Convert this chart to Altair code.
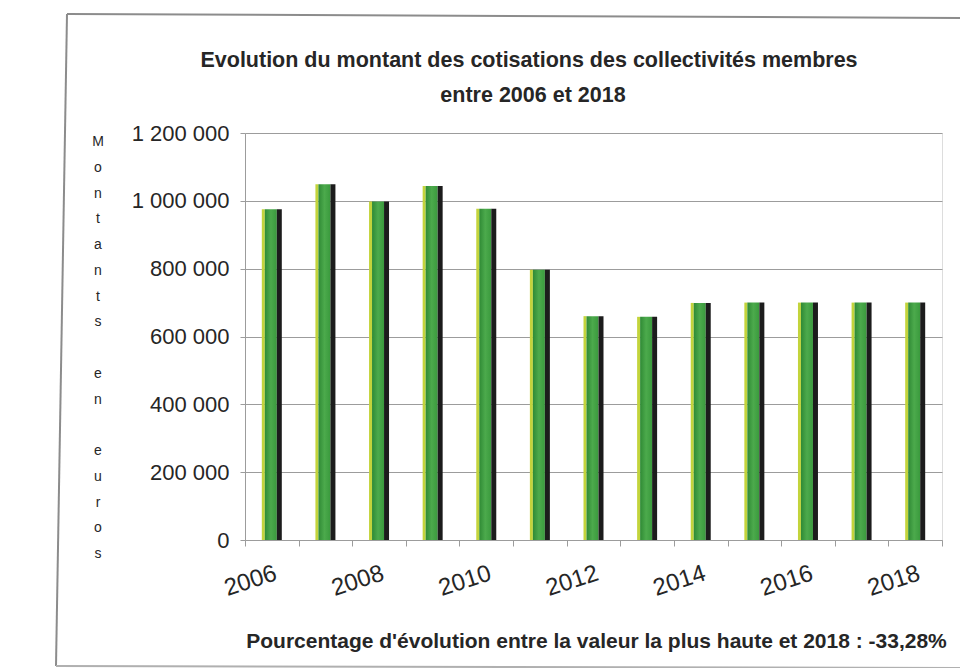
import altair as alt
import pandas as pd

# ---------------- data ----------------
years = [2006, 2007, 2008, 2009, 2010, 2011, 2012, 2013, 2014, 2015, 2016, 2017, 2018]
values = [975000, 1049000, 998000, 1044000, 977000, 797000, 660000, 658000,
          699000, 700000, 700000, 700000, 700000]
y_ticks = [0, 200000, 400000, 600000, 800000, 1000000, 1200000]
title_lines = ["Evolution du montant des cotisations des collectivités membres",
               "entre 2006 et 2018"]
caption = "Pourcentage d'évolution entre la valeur la plus haute et 2018 : -33,28%"
y_title_words = ["Montants", "en", "euros"]

df = pd.DataFrame({"year": years, "value": values})

FONT = "Liberation Sans"
TXT = "#262626"
GRID = "#9c9c9c"
LINE_H = 25.75

x_enc = alt.X(
    "year:O",
    scale=alt.Scale(paddingInner=0, paddingOuter=0),
    axis=alt.Axis(
        labelAngle=-18, labelAlign="right", labelBaseline="top",
        labelExpr="datum.value % 2 == 0 ? datum.label : ''",
        labelFont=FONT, labelFontSize=24, labelColor=TXT, labelPadding=15,
        tickBand="extent", tickSize=6, tickColor=GRID, domainColor=GRID,
        grid=False,
        title=caption, titleFont=FONT, titleFontSize=21, titleFontWeight="bold",
        titleColor=TXT, titleX=351, titleY=107, titleAlign="center",
        titleBaseline="alphabetic",
    ),
)
y_enc = alt.Y(
    "value:Q",
    scale=alt.Scale(domain=[0, 1200000], nice=False),
    axis=alt.Axis(
        values=y_ticks,
        labelExpr="replace(replace(format(datum.value, ',d'), ',', ' '), ',', ' ')",
        labelFont=FONT, labelFontSize=22, labelColor=TXT, labelPadding=11,
        tickSize=5, tickColor=GRID, domainColor=GRID,
        grid=True, gridColor=GRID, gridWidth=1,
        title=None,
    ),
)

base = alt.Chart(df).encode(x=x_enc, y=y_enc)

green = alt.Gradient(
    gradient="linear", x1=0, x2=1, y1=0, y2=0,
    stops=[alt.GradientStop(color="#2f8a35", offset=0),
           alt.GradientStop(color="#4caa4c", offset=0.5),
           alt.GradientStop(color="#3a9a3d", offset=1)],
)

bar_hi = base.mark_bar(width=3, xOffset=-8.5, color="#c3d43c")
bar_body = base.mark_bar(width=12, xOffset=-1, color=green)
bar_dark = base.mark_bar(width=5, xOffset=7.5, color="#1c1c1c")

one = pd.DataFrame({"k": [0]})
frame_left = alt.Chart(one).mark_rule(color="#8c8c8c", strokeWidth=2).encode(
    x=alt.value(-178), y=alt.value(-119), x2=alt.value(-189), y2=alt.value(533))
frame_top = alt.Chart(one).mark_rule(color="#8c8c8c", strokeWidth=2).encode(
    x=alt.value(-178), y=alt.value(-119), x2=alt.value(720), y2=alt.value(-115))
frame_bottom = alt.Chart(one).mark_rule(color="#b0b0b0", strokeWidth=2).encode(
    x=alt.value(-189), y=alt.value(533), x2=alt.value(720), y2=alt.value(535))

title1 = alt.Chart(one).mark_text(
    font=FONT, fontSize=21.5, fontWeight="bold", color=TXT,
    align="center", baseline="alphabetic",
).encode(x=alt.value(284), y=alt.value(-66), text=alt.value(title_lines[0]))
title2 = alt.Chart(one).mark_text(
    font=FONT, fontSize=21.5, fontWeight="bold", color=TXT,
    align="center", baseline="alphabetic",
).encode(x=alt.value(288), y=alt.value(-31), text=alt.value(title_lines[1]))

# vertical, letter-stacked y-axis title ("Montants en euros"), one word per block
y_title_layers = []
line_no = 0
for word in y_title_words:
    y_title_layers.append(
        alt.Chart(one).mark_text(
            font=FONT, fontSize=14, color=TXT, align="center", baseline="alphabetic",
            lineHeight=LINE_H,
        ).encode(x=alt.value(-147), y=alt.value(13 + line_no * LINE_H),
                 text=alt.value(list(word)))
    )
    line_no += len(word) + 1

chart = alt.layer(
    bar_hi, bar_body, bar_dark, frame_left, frame_top, frame_bottom,
    title1, title2, *y_title_layers
).properties(
    width=697,
    height=407,
    autosize=alt.AutoSizeParams(type="none"),
    padding={"left": 245, "top": 133, "right": 18, "bottom": 128},
).configure_view(stroke=None).configure(background="white")

chart.save("out.html", embed_options={"renderer": "svg", "actions": False})
